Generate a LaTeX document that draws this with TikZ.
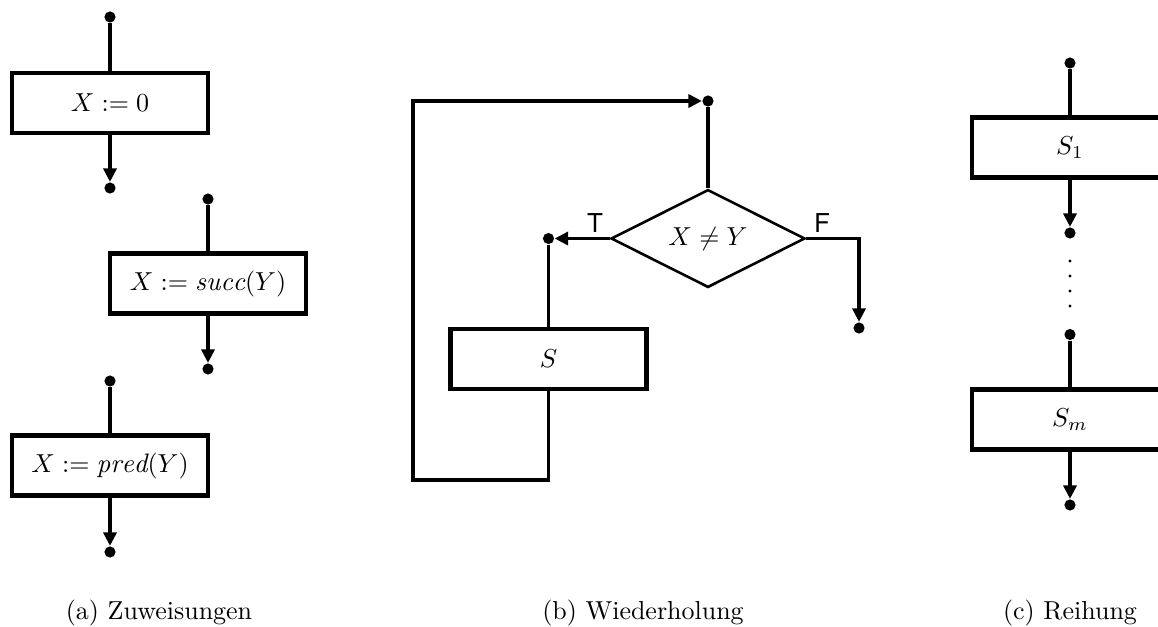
\documentclass[tikz,border=0pt]{standalone}
\usepackage{fontspec}
\newfontfamily\helv{TeX Gyre Heros}
\usetikzlibrary{arrows.meta,shapes.geometric}
\begin{document}
\begin{tikzpicture}[x=0.385pt,y=-0.385pt,
  pbox/.style={draw,line width=1.7pt,minimum width=75.5pt,minimum height=23.2pt,inner sep=0pt,fill=white,font=\fontsize{10.3}{12}\selectfont},
  dec/.style={draw,shape=diamond,shape aspect=2,line width=1pt,minimum width=74.7pt,minimum height=37.7pt,inner sep=1pt,font=\fontsize{10.3}{12}\selectfont},
  pdot/.style={circle,fill=black,inner sep=0pt,minimum size=4.3pt},
  sdot/.style={circle,fill=black,inner sep=0pt,minimum size=1.2pt},
  conn/.style={line width=1.35pt},
  arr/.style={conn,-{Triangle[length=5.2pt,width=5pt]}},
  lab/.style={font=\helv\fontsize{10}{12}\selectfont,inner sep=0pt},
  captext/.style={anchor=base,inner sep=0pt,font=\fontsize{10}{12}\selectfont}]
\useasboundingbox (0,0) rectangle (1158,626);
\clip (0,0) rectangle (1158,626);
% (a)
\node[pdot] (a1t) at (110,17) {};
\node[pbox] (a1) at (110,103) {$X := 0$};
\node[pdot] (a1b) at (110,188) {};
\draw[conn] (a1t) -- (a1.north);
\draw[arr] (a1.south) -- (a1b);
\node[pdot] (a2t) at (208,199) {};
\node[pbox] (a2) at (208,283.5) {$X := \mathit{succ}(Y)$};
\node[pdot] (a2b) at (208,369) {};
\draw[conn] (a2t) -- (a2.north);
\draw[arr] (a2.south) -- (a2b);
\node[pdot] (a3t) at (110,381) {};
\node[pbox] (a3) at (110,465.5) {$X := \mathit{pred}(Y)$};
\node[pdot] (a3b) at (110,552) {};
\draw[conn] (a3t) -- (a3.north);
\draw[arr] (a3.south) -- (a3b);
% (b)
\node[pdot] (bt) at (708,101) {};
\node[dec] (d) at (708,238.5) {$X \neq Y$};
\node[pdot] (bT) at (548.5,238.5) {};
\node[pdot] (bF) at (859,328) {};
\node[pbox] (s) at (548.5,359) {$S$};
\coordinate (fc) at (859,238.5);
\coordinate (l1) at (548.5,480);
\coordinate (l2) at (413,480);
\coordinate (l3) at (413,101);
\node[lab] (tl) at (595,223) {T};
\node[lab] (fl) at (822,223) {F};
\draw[conn] (d.north) -- (bt);
\draw[arr] (d.west) -- (bT);
\draw[conn] (bT) -- (s.north);
\draw[arr] (d.east) -- (fc) -- (bF);
\draw[arr] (s.south) -- (l1) -- (l2) -- (l3) -- (bt);
% (c)
\node[pdot] (c1t) at (1070,63) {};
\node[pbox] (c1) at (1070,147.5) {$S_1$};
\node[pdot] (c1b) at (1070,233) {};
\node[sdot] (e1) at (1070,261) {};
\node[sdot] (e2) at (1070,276) {};
\node[sdot] (e3) at (1070,291) {};
\node[sdot] (e4) at (1070,306) {};
\node[pdot] (c2t) at (1070,334.5) {};
\node[pbox] (c2) at (1070,419.5) {$S_m$};
\node[pdot] (c2b) at (1070,505) {};
\draw[conn] (c1t) -- (c1.north);
\draw[arr] (c1.south) -- (c1b);
\draw[conn] (c2t) -- (c2.north);
\draw[arr] (c2.south) -- (c2b);
% captions
\node[captext] (ca) at (159,619) {(a) Zuweisungen};
\node[captext] (cb) at (643,619) {(b) Wiederholung};
\node[captext] (cc) at (1070,619) {(c) Reihung};
\end{tikzpicture}
\end{document}
